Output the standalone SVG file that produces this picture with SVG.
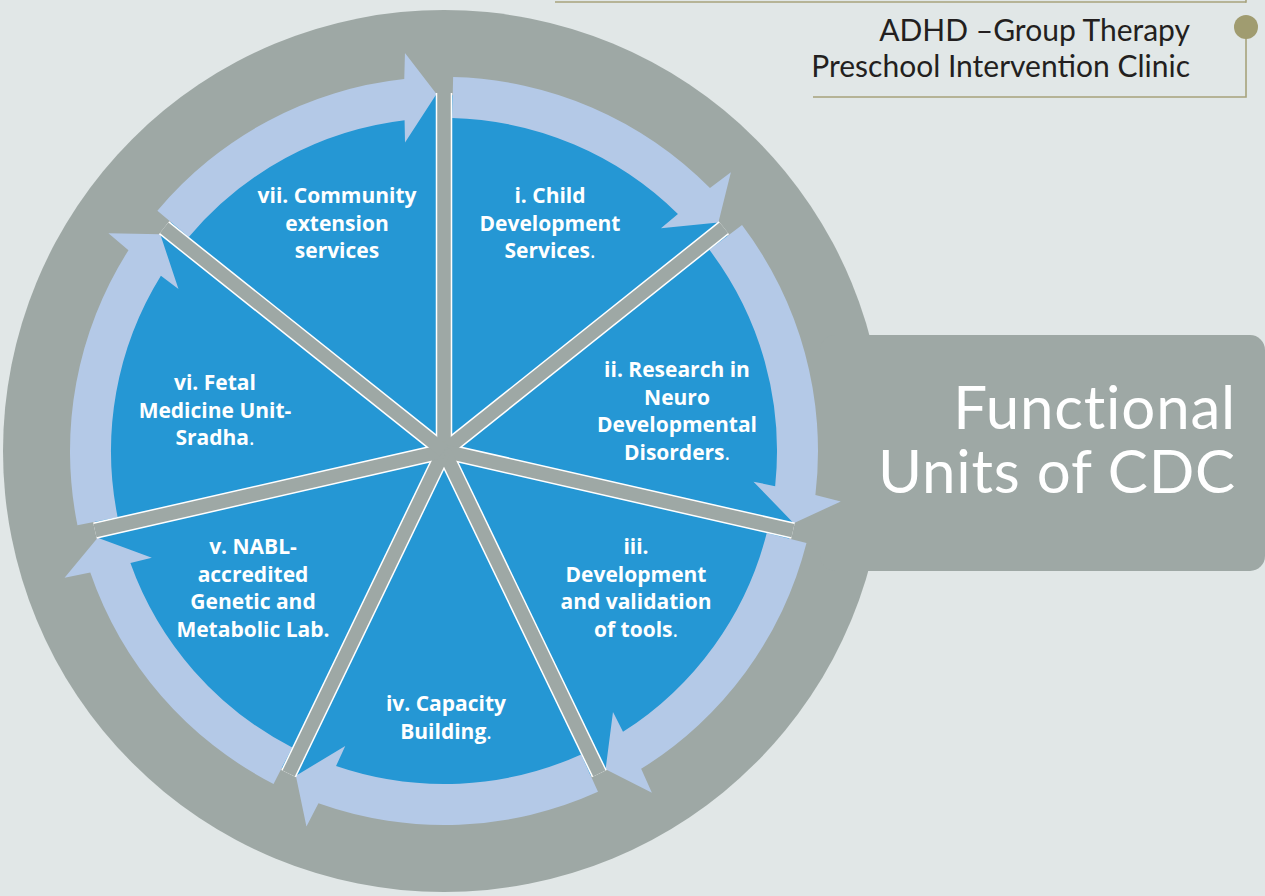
<svg xmlns="http://www.w3.org/2000/svg" xmlns:xlink="http://www.w3.org/1999/xlink" width="1265" height="896" viewBox="0 0 1265 896">
<defs>
<style>
.lbl{font-family:"Open Sans","Liberation Sans",sans-serif;font-weight:700;font-size:21px;fill:#ffffff;text-anchor:middle}
.n{font-weight:400}
.title{font-family:Lato,"Open Sans",sans-serif;font-size:60px;letter-spacing:0.8px;font-variant-ligatures:none;fill:#ffffff;text-anchor:end}
.sub{font-family:Lato,"Open Sans",sans-serif;font-size:30px;fill:#231f20;text-anchor:end}
.frame{stroke:#a7a37c;stroke-width:1.6;fill:none}
.sw{stroke:#ffffff;stroke-width:16.5}
.sg{stroke:#9ea8a5;stroke-width:13.5}
</style>
<path id="slice" d="M444,451 L444,95 A356,356 0 0 1 722.33,229.04 Z" fill="#2597d4"/>
<path id="arrow" d="M452.14,118.10 L453.14,77.11 A374,374 0 0 1 709.97,188.06 L730.90,172.28 L718.39,222.62 L660.93,228.15 L677.94,214.01 A333,333 0 0 0 452.14,118.10 Z" fill="#b4c9e7"/>
<line id="spoke" x1="444" y1="451" x2="444" y2="93"/>
</defs>
<rect x="0" y="0" width="1265" height="896" fill="#e1e7e7"/>
<g id="header">
<line class="frame" x1="555" y1="2" x2="1246" y2="2"/>
<line class="frame" x1="1246" y1="0" x2="1246" y2="2.8"/>
<path class="frame" d="M1246,27 V97 H813"/>
<circle cx="1246" cy="27" r="12" fill="#a09c70"/>
<text class="sub" x="1190" y="41">ADHD –Group Therapy</text>
<text class="sub" x="1190" y="77">Preschool Intervention Clinic</text>
</g>
<circle cx="444" cy="451" r="441" fill="#9ea8a5"/>
<g id="title">
<rect x="820" y="335" width="445" height="236" rx="15" fill="#9ea8a5"/>
<text class="title" x="1236" y="429">Functional</text>
<text class="title" x="1236" y="493">Units of CDC</text>
</g>
<g id="unit-i"><use xlink:href="#slice"/>
<text class="lbl"><tspan x="550" y="203">i. Child</tspan><tspan x="550" y="230.5">Development</tspan><tspan x="550" y="258">Services<tspan class="n">.</tspan></tspan></text></g>
<g id="unit-ii"><use xlink:href="#slice" transform="rotate(51.4286 444 451)"/>
<text class="lbl"><tspan x="677" y="377">ii. Research in</tspan><tspan x="677" y="404.5">Neuro</tspan><tspan x="677" y="432">Developmental</tspan><tspan x="677" y="459.5">Disorders<tspan class="n">.</tspan></tspan></text></g>
<g id="unit-iii"><use xlink:href="#slice" transform="rotate(102.8571 444 451)"/>
<text class="lbl"><tspan x="636" y="554">iii.</tspan><tspan x="636" y="581.5">Development</tspan><tspan x="636" y="609">and validation</tspan><tspan x="636" y="636.5">of tools<tspan class="n">.</tspan></tspan></text></g>
<g id="unit-iv"><use xlink:href="#slice" transform="rotate(154.2857 444 451)"/>
<text class="lbl"><tspan x="446" y="711">iv. Capacity</tspan><tspan x="446" y="738.5">Building<tspan class="n">.</tspan></tspan></text></g>
<g id="unit-v"><use xlink:href="#slice" transform="rotate(205.7143 444 451)"/>
<text class="lbl"><tspan x="253" y="554">v. NABL-</tspan><tspan x="253" y="581.5">accredited</tspan><tspan x="253" y="609">Genetic and</tspan><tspan x="253" y="636.5">Metabolic Lab.</tspan></text></g>
<g id="unit-vi"><use xlink:href="#slice" transform="rotate(257.1429 444 451)"/>
<text class="lbl"><tspan x="215" y="390">vi. Fetal</tspan><tspan x="215" y="417.5">Medicine Unit-</tspan><tspan x="215" y="445">Sradha<tspan class="n">.</tspan></tspan></text></g>
<g id="unit-vii"><use xlink:href="#slice" transform="rotate(308.5714 444 451)"/>
<text class="lbl"><tspan x="337" y="203">vii. Community</tspan><tspan x="337" y="230.5">extension</tspan><tspan x="337" y="258">services</tspan></text></g>
<g id="connectors">
<use xlink:href="#arrow"/>
<use xlink:href="#arrow" transform="rotate(51.4286 444 451)"/>
<use xlink:href="#arrow" transform="rotate(102.8571 444 451)"/>
<use xlink:href="#arrow" transform="rotate(154.2857 444 451)"/>
<use xlink:href="#arrow" transform="rotate(205.7143 444 451)"/>
<use xlink:href="#arrow" transform="rotate(257.1429 444 451)"/>
<use xlink:href="#arrow" transform="rotate(308.5714 444 451)"/>
</g>
<g id="dividers">
<g class="sw">
<use xlink:href="#spoke"/>
<use xlink:href="#spoke" transform="rotate(51.4286 444 451)"/>
<use xlink:href="#spoke" transform="rotate(102.8571 444 451)"/>
<use xlink:href="#spoke" transform="rotate(154.2857 444 451)"/>
<use xlink:href="#spoke" transform="rotate(205.7143 444 451)"/>
<use xlink:href="#spoke" transform="rotate(257.1429 444 451)"/>
<use xlink:href="#spoke" transform="rotate(308.5714 444 451)"/>
</g>
<g class="sg">
<use xlink:href="#spoke"/>
<use xlink:href="#spoke" transform="rotate(51.4286 444 451)"/>
<use xlink:href="#spoke" transform="rotate(102.8571 444 451)"/>
<use xlink:href="#spoke" transform="rotate(154.2857 444 451)"/>
<use xlink:href="#spoke" transform="rotate(205.7143 444 451)"/>
<use xlink:href="#spoke" transform="rotate(257.1429 444 451)"/>
<use xlink:href="#spoke" transform="rotate(308.5714 444 451)"/>
</g>
</g>
</svg>
